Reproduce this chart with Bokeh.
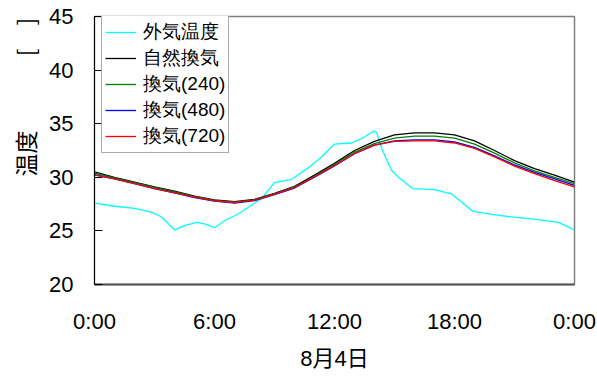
from bokeh.plotting import figure
from bokeh.models import Range1d, FixedTicker, Legend, LegendItem, Title
from bokeh.embed import file_html
from bokeh.resources import INLINE

# Time axis (hours from 0:00 on Aug 4)
hours = list(range(0, 25))

# Outside air temperature (irregular sample times)
outside_t = [0, 1, 2, 2.85, 3.35, 4.0, 4.5, 5.1, 5.5, 6.0, 6.5, 7.2, 7.85, 8.35, 9.0,
             9.85, 10.7, 11.35, 12.0, 12.85, 13.35, 13.95, 14.1, 14.4, 14.85, 15.2,
             15.9, 17.0, 17.85, 18.35, 18.9, 19.85, 20.85, 22.0, 23.2, 24.0]
outside = [27.6, 27.3, 27.1, 26.75, 26.3, 25.1, 25.5, 25.8, 25.65, 25.3, 25.95, 26.6,
           27.4, 28.0, 29.5, 29.8, 30.9, 31.9, 33.1, 33.2, 33.6, 34.3, 34.2, 32.5,
           30.65, 30.0, 28.95, 28.85, 28.45, 27.7, 26.85, 26.55, 26.3, 26.1, 25.8, 25.1]

# Room temperature series (hourly)
natural = [30.5, 30.0, 29.55, 29.1, 28.7, 28.25, 27.9, 27.72, 27.95, 28.5, 29.15, 30.2,
           31.3, 32.5, 33.35, 33.95, 34.15, 34.15, 33.95, 33.4, 32.5, 31.55, 30.8, 30.2, 29.55]
vent240 = [30.4, 29.95, 29.5, 29.05, 28.65, 28.2, 27.85, 27.68, 27.9, 28.45, 29.1, 30.1,
           31.2, 32.35, 33.15, 33.65, 33.85, 33.85, 33.65, 33.1, 32.25, 31.35, 30.6, 30.0, 29.4]
vent480 = [30.25, 29.85, 29.4, 28.95, 28.55, 28.1, 27.78, 27.6, 27.82, 28.38, 29.0, 30.0,
           31.05, 32.2, 33.0, 33.4, 33.5, 33.5, 33.3, 32.8, 32.0, 31.15, 30.45, 29.85, 29.25]
vent720 = [30.2, 29.85, 29.4, 28.95, 28.55, 28.15, 27.8, 27.65, 27.88, 28.42, 29.05, 30.05,
           31.1, 32.2, 33.0, 33.35, 33.4, 33.4, 33.2, 32.7, 31.9, 31.05, 30.35, 29.7, 29.1]

labels = ["外気温度", "自然換気", "換気(240)", "換気(480)", "換気(720)"]
x_ticks = [0, 6, 12, 18, 24]
x_tick_labels = ["0:00", "6:00", "12:00", "18:00", "0:00"]
y_ticks = [20, 25, 30, 35, 40, 45]
y_title = "温度　　　   [　]"

FONT = "'Liberation Sans', 'Noto Sans CJK JP', sans-serif"
CJK = "'Noto Sans CJK JP', sans-serif"

p = figure(width=597, height=377, output_backend="svg", toolbar_location=None,
           x_range=Range1d(0, 24), y_range=Range1d(20, 45),
           min_border_left=93, min_border_right=23, min_border_top=16, min_border_bottom=93)

p.xgrid.visible = False
p.ygrid.visible = False
p.outline_line_color = "#808080"
p.outline_line_width = 1.5

r_out = p.line(outside_t, outside, color="#00FFFF", line_width=1.3)
r_nat = p.line(hours, natural, color="black", line_width=1.3)
r_240 = p.line(hours, vent240, color="#008000", line_width=1.3)
r_480 = p.line(hours, vent480, color="#0000FF", line_width=1.3)
r_720 = p.line(hours, vent720, color="#FF0000", line_width=1.3)

# Axes
xa = p.xaxis[0]
xa.ticker = FixedTicker(ticks=x_ticks)
xa.major_label_overrides = {t: l for t, l in zip(x_ticks, x_tick_labels)}
xa.major_tick_line_color = None
xa.minor_tick_line_color = None
xa.axis_line_color = "#555555"
xa.axis_line_width = 2
xa.major_label_text_font = FONT
xa.major_label_text_font_size = "22px"
xa.major_label_text_color = "black"
xa.major_label_standoff = 18
xa.axis_label = "8月4日"
xa.axis_label_text_font = FONT
xa.axis_label_text_font_size = "22px"
xa.axis_label_text_font_style = "normal"
xa.axis_label_text_color = "black"
xa.axis_label_standoff = 9

ya = p.yaxis[0]
ya.ticker = FixedTicker(ticks=y_ticks)
ya.major_tick_in = 8
ya.major_tick_out = 0
ya.minor_tick_line_color = None
ya.axis_line_color = "black"
ya.major_label_text_font = FONT
ya.major_label_text_font_size = "22px"
ya.major_label_text_color = "black"
ya.major_label_standoff = 21

# Vertical axis title, reading bottom to top
p.add_layout(Title(text=y_title, align="left", offset=108, standoff=10,
                   text_font=CJK, text_font_size="23px", text_font_style="normal",
                   text_color="black"), "left")

legend = Legend(items=[LegendItem(label=l, renderers=[r])
                       for l, r in zip(labels, [r_out, r_nat, r_240, r_480, r_720])],
                location=(7, 131))
legend.label_text_font = "Liberation Sans"
legend.label_text_font_size = "19px"
legend.label_text_line_height = 1.0
legend.label_text_color = "black"
legend.border_line_color = "#555555"
legend.border_line_width = 1
legend.background_fill_alpha = 1
legend.glyph_width = 31
legend.glyph_height = 18
legend.label_height = 18
legend.label_standoff = 7
legend.spacing = 0
legend.padding = 3
legend.margin = 0
p.add_layout(legend)

open("out.html", "w").write(file_html(p, INLINE))
